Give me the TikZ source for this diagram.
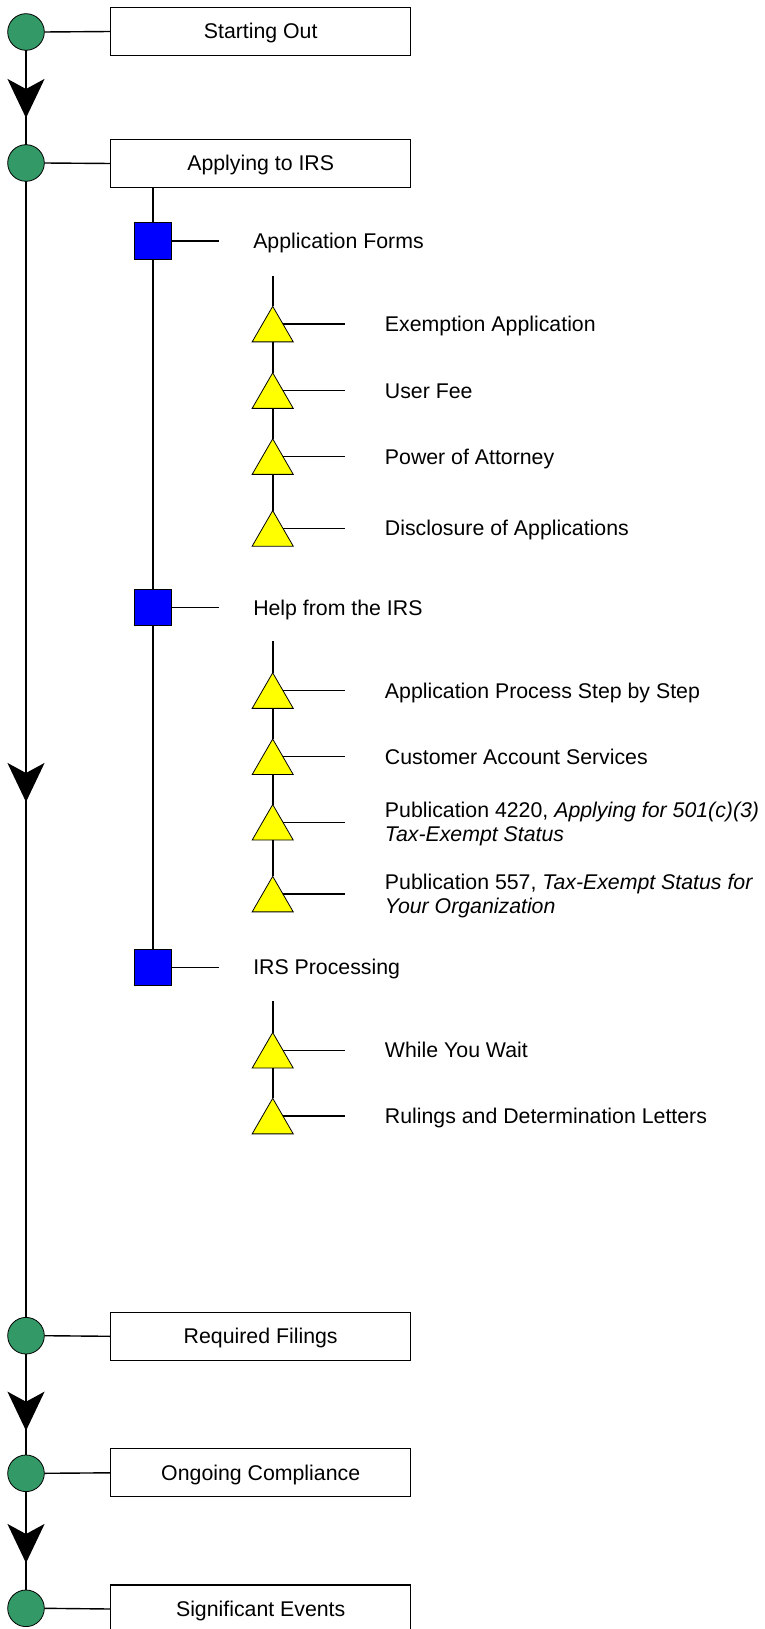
\documentclass[tikz,border=0pt]{standalone}
\usepackage{fontspec}
\setmainfont{Liberation Sans}
\usetikzlibrary{shapes.geometric, arrows.meta, decorations.markings}
\definecolor{stagegreen}{RGB}{51,153,102}
\definecolor{topicblue}{RGB}{0,0,255}
\definecolor{leafyellow}{RGB}{255,255,0}
\newcommand\lblfont{\fontsize{21.3}{24}\selectfont}
\begin{document}
\begin{tikzpicture}[x=1pt, y=-1pt,
  every node/.style={inner sep=0pt, outer sep=0pt},
  stagedot/.style={circle, draw=black, line width=0.8pt, fill=stagegreen, minimum size=36.6pt},
  titlebox/.style={rectangle, draw=black, line width=1.3pt, minimum width=300pt, minimum height=48pt, font=\lblfont, text height=20pt, text depth=5pt},
  topicsq/.style={rectangle, draw=black, line width=1pt, fill=topicblue, minimum size=36.5pt},
  leaftri/.style={regular polygon, regular polygon sides=3, draw=black, line width=0.8pt, fill=leafyellow, minimum size=47.4pt},
  topiclabel/.style={anchor=west, inner xsep=34pt, font=\lblfont, text height=20pt, text depth=5pt},
  leaflabel/.style={anchor=west, inner xsep=40pt, align=left, font=\lblfont, text height=20pt, text depth=5pt},
  twoline/.style={text height=44pt, text depth=5pt},
  spineline/.style={line width=2pt},
  linkline/.style={line width=1.4pt},
  flowline/.style={line width=2pt, postaction={decorate}, decoration={markings, mark=at position #1 with {\arrow{Stealth[length=39pt, width=37pt, inset=10pt]}}}},
]
\useasboundingbox (0,0) rectangle (764,1629);

% stages
\node[stagedot] (c1) at (26,32) {};
\node[stagedot] (c2) at (26,163) {};
\node[stagedot] (c3) at (26,1335.7) {};
\node[stagedot] (c4) at (26,1473.3) {};
\node[stagedot] (c5) at (26,1608.3) {};

\node[titlebox] (b1) at (260.7,31.5) {Starting Out};
\node[titlebox] (b2) at (260.7,163.5) {Applying to IRS};
\node[titlebox] (b3) at (260.7,1336.3) {Required Filings};
\node[titlebox] (b4) at (260.7,1472.8) {Ongoing Compliance};
\node[titlebox] (b5) at (260.7,1609) {Significant Events};

\foreach \i in {1,...,5} \draw[linkline] (c\i.east) -- (b\i.west);

\draw[flowline=67.7pt] (c1.south) -- (c2.north);
\draw[flowline=620.7pt] (c2.south) -- (c3.north);
\draw[flowline=76.7pt] (c3.south) -- (c4.north);
\draw[flowline=71.4pt] (c4.south) -- (c5.north);

% topics
\node[topicsq] (s1) at (153,241) {};
\node[topicsq] (s2) at (153,607.5) {};
\node[topicsq] (s3) at (153,967.3) {};
\node[topiclabel] (sl1) at ([xshift=48pt]s1.east) {Application Forms};
\node[topiclabel] (sl2) at ([xshift=48pt]s2.east) {Help from the IRS};
\node[topiclabel] (sl3) at ([xshift=48pt]s3.east) {IRS Processing};
\foreach \i in {1,2,3} \draw[linkline] (s\i.east) -- (sl\i.west);
\draw[spineline] (b2.south -| s1.north) -- (s1.north);
\draw[spineline] (s1.south) -- (s2.north);
\draw[spineline] (s2.south) -- (s3.north);

% leaves
\coordinate (g1) at (272.7,275.7);
\coordinate (g2) at (272.7,641);
\coordinate (g3) at (272.7,1001);

\node[leaftri] (t1) at (272.7,330) {};
\node[leaftri] (t2) at (272.7,396.5) {};
\node[leaftri] (t3) at (272.7,462.5) {};
\node[leaftri] (t4) at (272.7,534.3) {};
\node[leaftri] (t5) at (272.7,696.5) {};
\node[leaftri] (t6) at (272.7,762.7) {};
\node[leaftri] (t7) at (272.7,828.2) {};
\node[leaftri] (t8) at (272.7,900) {};
\node[leaftri] (t9) at (272.7,1056.2) {};
\node[leaftri] (t10) at (272.7,1122) {};

\node[leaflabel] (l1) at ([xshift=62pt]t1.side 3) {Exemption Application};
\node[leaflabel] (l2) at ([xshift=62pt]t2.side 3) {User Fee};
\node[leaflabel] (l3) at ([xshift=62pt]t3.side 3) {Power of Attorney};
\node[leaflabel] (l4) at ([xshift=62pt]t4.side 3) {Disclosure of Applications};
\node[leaflabel] (l5) at ([xshift=62pt]t5.side 3) {Application Process Step by Step};
\node[leaflabel] (l6) at ([xshift=62pt]t6.side 3) {Customer Account Services};
\node[leaflabel, twoline] (l7) at ([xshift=62pt]t7.side 3) {Publication 4220, \textit{Applying for 501(c)(3)}\\\textit{Tax-Exempt Status}};
\node[leaflabel, twoline] (l8) at ([xshift=62pt]t8.side 3) {Publication 557, \textit{Tax-Exempt Status for}\\\textit{Your Organization}};
\node[leaflabel] (l9) at ([xshift=62pt]t9.side 3) {While You Wait};
\node[leaflabel] (l10) at ([xshift=62pt]t10.side 3) {Rulings and Determination Letters};

\foreach \i in {1,...,10} \draw[linkline] (t\i.side 3) -- (l\i.west);

\draw[spineline] (g1) -- (t1.corner 1);
\draw[spineline] (t1.side 2) -- (t2.corner 1);
\draw[spineline] (t2.side 2) -- (t3.corner 1);
\draw[spineline] (t3.side 2) -- (t4.corner 1);
\draw[spineline] (g2) -- (t5.corner 1);
\draw[spineline] (t5.side 2) -- (t6.corner 1);
\draw[spineline] (t6.side 2) -- (t7.corner 1);
\draw[spineline] (t7.side 2) -- (t8.corner 1);
\draw[spineline] (g3) -- (t9.corner 1);
\draw[spineline] (t9.side 2) -- (t10.corner 1);
\end{tikzpicture}
\end{document}
